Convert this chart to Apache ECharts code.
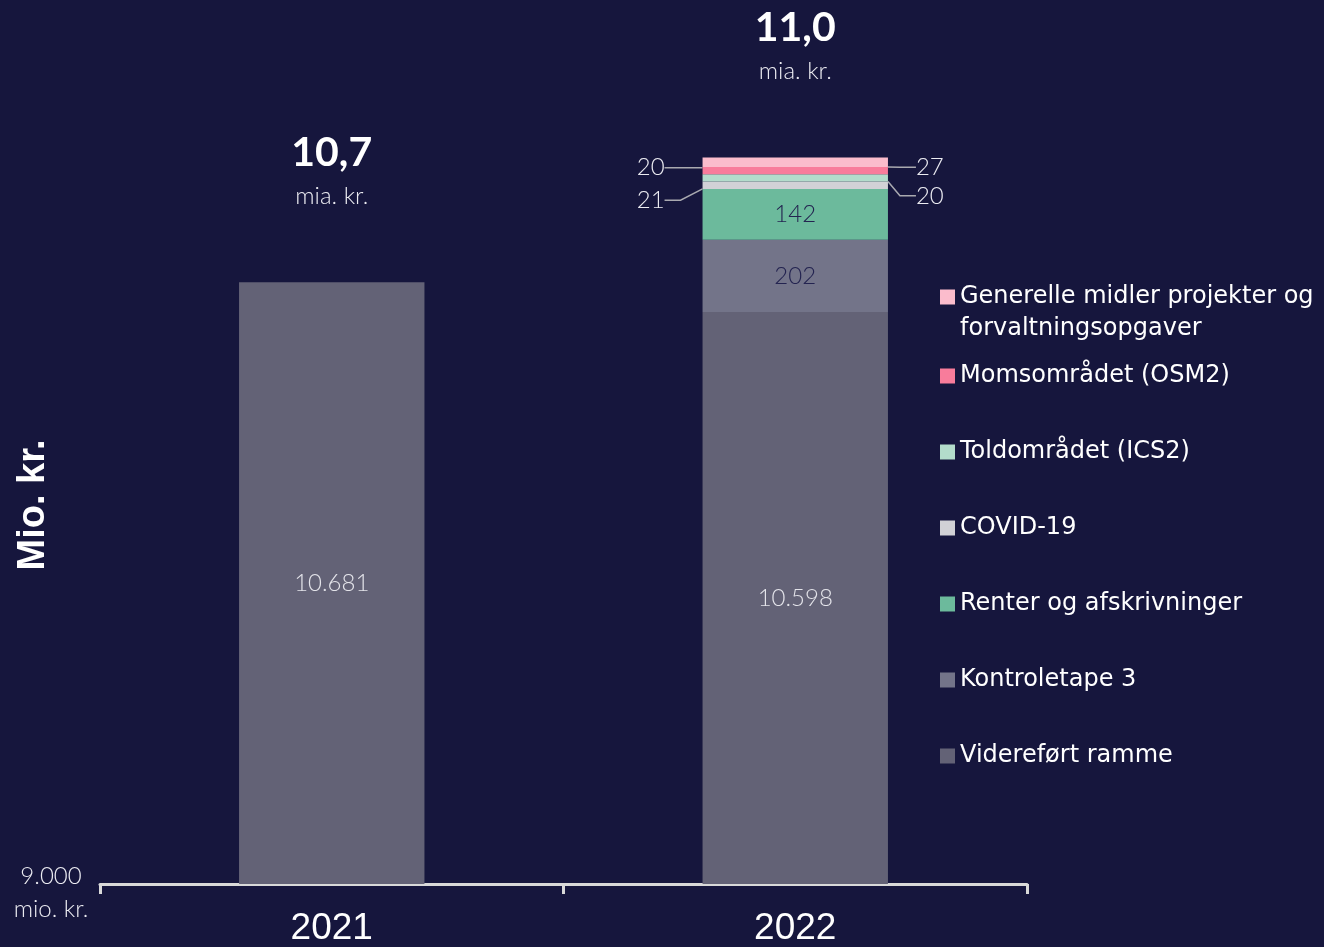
<!DOCTYPE html>
<html>
<head>
<meta charset="utf-8">
<script src="https://cdn.jsdelivr.net/npm/echarts@6/dist/echarts.min.js"></script>
<style>
html,body{margin:0;padding:0;background:#16163d;}
#c{width:1324px;height:947px;}
</style>
</head>
<body>
<div id="c"></div>
<script>
const categories = ['2021', '2022'];
const videreført = [10681, 10598];
const kontroletape = [null, 202];
const renter = [null, 142];
const covid = [null, 21];
const told = [null, 20];
const moms = [null, 20];
const generelle = [null, 27];
const yMin = 9000;
const yMax = 11400;
const yUnit = 'mio. kr.';
const seriesNames = ['Videreført ramme', 'Kontroletape 3', 'Renter og afskrivninger', 'COVID-19', 'Toldområdet (ICS2)', 'Momsområdet (OSM2)', 'Generelle midler projekter og\nforvaltningsopgaver'];
const seriesValues = [videreført, kontroletape, renter, covid, told, moms, generelle];
const colors = ['#636276', '#737489', '#6cba9c', '#d1d1d6', '#b3dccb', '#f87c9b', '#fbbccc'];

const fmt = v => String(v).replace(/\B(?=(\d{3})+(?!\d))/g, '.');
const totals = categories.map((c, i) => seriesValues.reduce((s, arr) => s + (arr[i] || 0), 0));

const lightFont = 'Lato';
const smallLabel = { fontFamily: lightFont, fontWeight: 300, fontSize: 24, color: '#ececf2' };
const labelCfg = [
  { show: true, position: 'inside', ...smallLabel, color: '#e4e4ea', formatter: p => fmt(p.value) },
  { show: true, position: 'inside', ...smallLabel, color: '#232350', formatter: p => fmt(p.value) },
  { show: true, position: 'inside', ...smallLabel, color: '#232350', formatter: p => fmt(p.value) },
  { show: true, position: 'left', distance: 28, ...smallLabel, padding: [0, 10, 0, 0], formatter: p => fmt(p.value) },
  { show: true, position: 'right', distance: 20, ...smallLabel, padding: [0, 0, 0, 8], formatter: p => fmt(p.value) },
  { show: true, position: 'left', distance: 28, ...smallLabel, padding: [0, 10, 0, 0], formatter: p => fmt(p.value) },
  { show: true, position: 'right', distance: 20, ...smallLabel, padding: [0, 0, 0, 8], formatter: p => fmt(p.value) }
];
const layoutCfg = [null, null, null, { dy: 15 }, { dy: 18 }, { dy: -3 }, { dy: 5 }];

const series = seriesNames.map((name, k) => {
  const s = {
    name: name,
    type: 'bar',
    stack: 'total',
    barWidth: '40%',
    data: seriesValues[k].map(v => v === null ? '-' : v),
    itemStyle: { color: colors[k] },
    label: labelCfg[k],
    emphasis: { disabled: true }
  };
  if (layoutCfg[k]) {
    s.labelLayout = layoutCfg[k];
    s.labelLine = { show: true, length2: 16, lineStyle: { color: '#a9a9b0', width: 1.5 } };
  }
  return s;
});

series.push({
  name: 'Total',
  type: 'bar',
  stack: 'total',
  barWidth: '40%',
  data: categories.map(() => 0),
  itemStyle: { color: 'transparent' },
  label: {
    show: true,
    position: 'top',
    distance: 64,
    formatter: p => '{big|' + (totals[p.dataIndex] / 1000).toFixed(1).replace('.', ',') + '}\n{small|mia. kr.}',
    rich: {
      big: { fontFamily: 'Lato', fontWeight: 'bold', fontSize: 41, color: '#ffffff', lineHeight: 44, align: 'center' },
      small: { fontFamily: lightFont, fontWeight: 300, fontSize: 24, color: '#ececf2', lineHeight: 44, align: 'center' }
    }
  },
  emphasis: { disabled: true }
});

const chart = echarts.init(document.getElementById('c'));
chart.setOption({
  backgroundColor: '#16163d',
  animation: false,
  grid: { left: 100, right: 297, top: 25, bottom: 61 },
  legend: [
    {
      orient: 'vertical',
      left: 940,
      top: 249,
      padding: 0,
      itemWidth: 15,
      itemHeight: 15,
      itemGap: 44,
      icon: 'rect',
      selectedMode: false,
      data: [seriesNames[6]],
      formatter: name => '\n' + name,
      textStyle: { fontFamily: 'DejaVu Sans', fontSize: 24, color: '#ffffff', lineHeight: 32 }
    },
    {
      orient: 'vertical',
      left: 940,
      top: 360,
      padding: 0,
      itemWidth: 15,
      itemHeight: 15,
      itemGap: 44,
      icon: 'rect',
      selectedMode: false,
      data: [seriesNames[5], seriesNames[4], seriesNames[3], seriesNames[2], seriesNames[1], seriesNames[0]],
      textStyle: { fontFamily: 'DejaVu Sans', fontSize: 24, color: '#ffffff', lineHeight: 32 }
    }
  ],
  xAxis: {
    type: 'category',
    data: categories,
    axisLine: { lineStyle: { color: '#d9d9d9', width: 3 } },
    axisTick: { show: true, length: 10, lineStyle: { color: '#d9d9d9', width: 3 } },
    axisLabel: { fontFamily: 'Liberation Sans', fontSize: 37, color: '#ffffff', margin: 26 }
  },
  yAxis: {
    type: 'value',
    min: yMin,
    max: yMax,
    splitLine: { show: false },
    axisLine: { show: false },
    axisTick: { show: false },
    axisLabel: { show: false }
  },
  graphic: [
    {
      type: 'text',
      x: 34,
      y: 505,
      rotation: Math.PI / 2,
      style: {
        text: 'Mio. kr.',
        fontFamily: 'Liberation Sans',
        fontWeight: 'bold',
        fontSize: 38,
        fill: '#ffffff',
        align: 'center',
        verticalAlign: 'middle'
      }
    },
    {
      type: 'text',
      x: 51,
      y: 860,
      style: {
        text: fmt(yMin) + '\n' + yUnit,
        fontFamily: lightFont,
        fontWeight: 300,
        fontSize: 24,
        lineHeight: 33,
        fill: '#ececf2',
        align: 'center',
        verticalAlign: 'top'
      }
    }
  ],
  series: series
});
</script>
</body>
</html>
